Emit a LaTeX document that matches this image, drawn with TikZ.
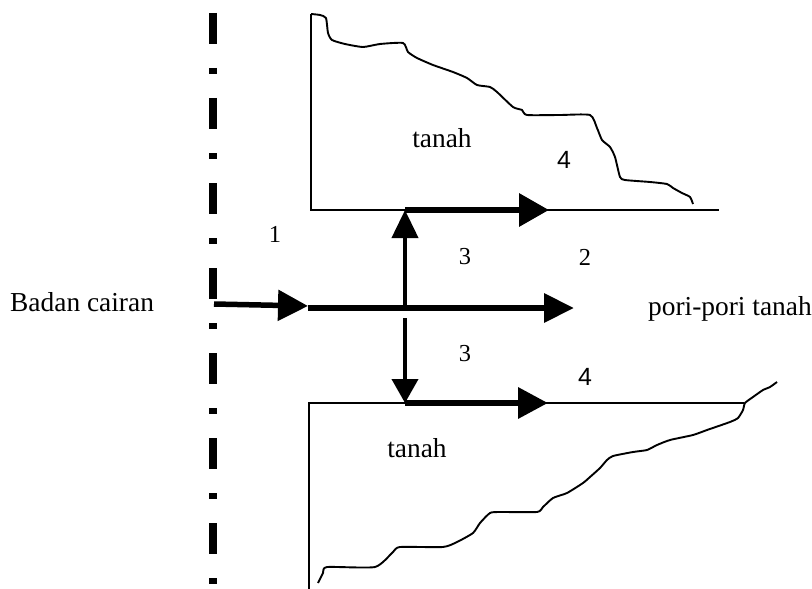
\documentclass[tikz,border=0pt]{standalone}
\usepackage{fontspec}
\setmainfont{Liberation Serif}
\newfontfamily\labelsans{Liberation Sans}
\usetikzlibrary{arrows.meta}
\begin{document}
\begin{tikzpicture}[x=1bp,y=-1bp,
  thinline/.style={line width=2bp},
  contour/.style={line width=1.9bp, line join=round},
  flowline/.style={line width=6.5bp, -{Triangle[length=30bp,width=30bp]}},
  vflow/.style={line width=4bp, -{Triangle[length=28bp,width=26bp]}},
  axisline/.style={line width=7.5bp, dash pattern=on 31bp off 24bp on 6bp off 24bp, dash phase=72bp},
  lbl/.style={font=\fontsize{27.5}{30}\selectfont, inner sep=0pt},
  num/.style={font=\fontsize{24.5}{26}\selectfont, inner sep=0pt},
  numsans/.style={font=\labelsans\fontsize{25}{27}\selectfont, inner sep=0pt}]
\useasboundingbox (0,0) rectangle (812,589);

% symmetry axis of the liquid body
\coordinate (axtop) at (213,0);
\coordinate (axbot) at (213,589);
\draw[axisline] (axtop) -- (axbot);

% key points
\coordinate (ua) at (311,14);    % upper soil, top left
\coordinate (ub) at (311,210);   % upper soil, bottom left
\coordinate (uj) at (405,210);   % upper soil, junction
\coordinate (ut) at (549,210);   % upper arrow tip
\coordinate (ue) at (719,210);   % upper boundary end
\coordinate (la) at (309,589);   % lower soil, bottom left
\coordinate (lb) at (309,403);   % lower soil, top left
\coordinate (lj) at (405,403);   % lower soil, junction
\coordinate (lt) at (548,403);   % lower arrow tip
\coordinate (le) at (744,403);   % lower boundary end
\coordinate (in0) at (214,304);  % inflow start
\coordinate (in1) at (308,306);  % inflow tip
\coordinate (m0) at (308,308);   % main flow start
\coordinate (m1) at (574,308);   % main flow tip
\coordinate (c0) at (405,308);   % centre of branching
\coordinate (d0) at (405,318);   % downward branch start

% upper soil block
\draw[thinline] (ua) -- (ub) -- (ue);
\draw[contour] plot[smooth, tension=0.35] coordinates {
  (311,14) (320,15) (326,18) (328,33) (332,40) (345,44) (363,47) (380,44)
  (403,43) (408,52) (417,58) (433,65) (453,72) (467,78) (477,85) (490,87)
  (497,92) (513,107) (522,110) (527,115) (560,115) (590,115) (597,128)
  (602,140) (610,147) (615,157) (620,177) (625,180) (650,182) (667,184)
  (673,188) (682,193) (690,197) (693,204)};

% lower soil block
\draw[thinline] (la) -- (lb) -- (le);
\draw[contour] plot[smooth, tension=0.35] coordinates {
  (777,382) (770,387) (763,390) (753,397) (745,403) (743,410) (738,418)
  (730,422) (707,430) (693,435) (670,440) (657,445) (647,450) (633,452)
  (613,456) (607,460) (600,468) (590,477) (583,483) (567,493) (553,498)
  (543,507) (537,512) (500,512) (490,513) (480,523) (473,533) (457,542)
  (443,547) (400,547) (393,552) (375,567) (327,567) (323,573) (318,583)};

% flows
\draw[flowline, line width=5.5bp] (in0) -- (in1);
\draw[flowline, -{Triangle[length=30bp,width=28bp]}] (m0) -- (m1);
\draw[flowline, -{Triangle[length=30bp,width=32bp]}] (uj) -- (ut);
\draw[flowline] (lj) -- (lt);
\draw[vflow] (c0) -- (uj);
\draw[vflow, -{Triangle[length=24bp,width=26bp]}] (d0) -- (lj);

% labels
\node[lbl] (tanahA) at (442,138) {tanah};
\node[lbl] (tanahB) at (417,448) {tanah};
\node[lbl, anchor=base west] (badan) at (10,311) {Badan cairan};
\node[lbl, anchor=base west] (pori) at (648,315) {pori-pori tanah};
\node[num] (n1) at (275,234) {1};
\node[num] (n3a) at (465,257) {3};
\node[num] (n2) at (585,257) {2};
\node[num] (n3b) at (465,354) {3};
\node[numsans] (n4a) at (564,160) {4};
\node[numsans] (n4b) at (585,377) {4};
\end{tikzpicture}
\end{document}
